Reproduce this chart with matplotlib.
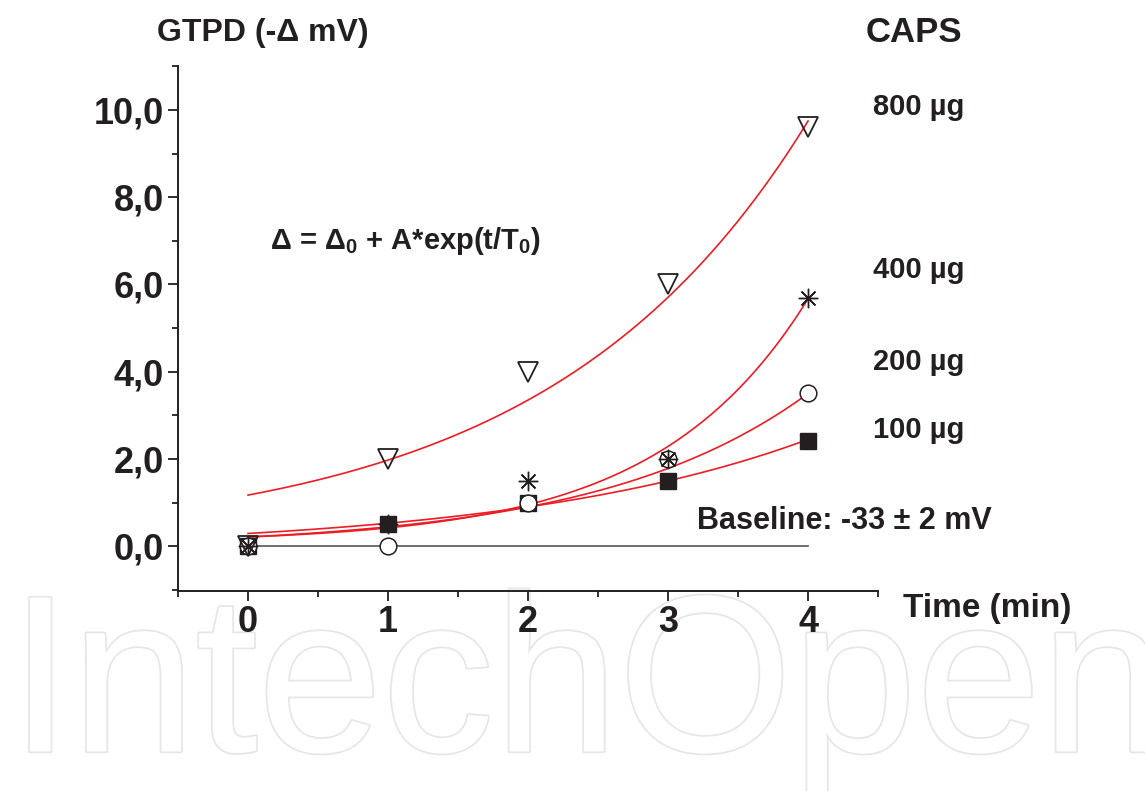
import matplotlib
matplotlib.use('Agg')
import matplotlib.pyplot as plt
import matplotlib.patheffects as pe
import numpy as np
from matplotlib.ticker import MultipleLocator, FuncFormatter

plt.rcParams['font.family'] = ['Liberation Sans', 'DejaVu Sans']
plt.rcParams['mathtext.default'] = 'bf'
plt.rcParams['mathtext.fontset'] = 'custom'
plt.rcParams['mathtext.bf'] = 'Liberation Sans:bold'

# measured points, time in min, GTPD in -mV
time = [0, 1, 2, 3, 4]
gtpd_800 = [0.0, 2.0, 4.0, 6.0, 9.6]
gtpd_400 = [0.0, 0.5, 1.5, 2.0, 5.7]
gtpd_200 = [0.0, 0.0, 1.0, 2.0, 3.5]
gtpd_100 = [0.0, 0.5, 1.0, 1.5, 2.4]

# exponential fit parameters (delta0, A, T0)
fit_800 = (0.044, 1.126, 1.857)
fit_400 = (0.073, 0.137, 1.078)
fit_200 = (-0.04, 0.249, 1.507)
fit_100 = (-0.106, 0.396, 2.146)

INK = '#231f20'
RED = '#ee1c24'

fig = plt.figure(figsize=(11.45, 7.91), dpi=100)
ax = fig.add_axes([0.1555, 0.2528, 0.6114, 0.6632])
ax.patch.set_alpha(0)

# watermark
fig.text(0.008, 0.05, 'IntechOpen', fontsize=161, color='white',
         family='Liberation Sans', zorder=-5,
         path_effects=[pe.Stroke(linewidth=2.5, foreground='#e6e6e6'), pe.Normal()])

t = np.linspace(0, 4, 200)
for d0, a, t0 in [fit_800, fit_400, fit_200, fit_100]:
    ax.plot(t, d0 + a * np.exp(t / t0), color=RED, lw=1.2, zorder=2)

ax.plot([0, 4], [0, 0], color='#555555', lw=1.2, zorder=1)

ax.plot(time, gtpd_100, ls='none', marker='s', ms=11, color=INK, zorder=3)
ax.plot(time, gtpd_200, ls='none', marker='o', ms=12, mfc='white', mec=INK, mew=1.1, zorder=4)
ax.plot(time, gtpd_400, ls='none', marker=(8, 2, 0), ms=14, mec=INK, mew=1.0, zorder=5)
ax.plot(time, gtpd_800, ls='none', marker='v', ms=14, mfc='none', mec=INK, mew=1.3, zorder=6)

ax.set_xlim(-0.5, 4.5)
ax.set_ylim(-1.03, 11.0)
ax.spines['top'].set_visible(False)
ax.spines['right'].set_visible(False)
for s in ['left', 'bottom']:
    ax.spines[s].set_linewidth(1.4)
    ax.spines[s].set_color(INK)

ax.xaxis.set_major_locator(MultipleLocator(1))
ax.xaxis.set_minor_locator(MultipleLocator(0.5))
ax.yaxis.set_major_locator(MultipleLocator(2))
ax.yaxis.set_minor_locator(MultipleLocator(1))
ax.yaxis.set_major_formatter(FuncFormatter(lambda v, p: f'{v:.1f}'.replace('.', ',')))
ax.tick_params(which='major', direction='out', length=7, width=1.3, color=INK,
               labelsize=26, labelcolor=INK, pad=3)
ax.tick_params(which='minor', direction='out', length=4, width=1.3, color=INK)
for lab in ax.get_xticklabels() + ax.get_yticklabels():
    lab.set_fontweight('bold')

txt = dict(fontweight='bold', color=INK, va='center', ha='left', clip_on=False)
ax.text(-0.65, 11.77, 'GTPD (-Δ mV)', fontsize=23, **txt)
ax.text(4.41, 11.77, 'CAPS', fontsize=25, **txt)
ax.text(4.46, 10.07, '800 µg', fontsize=21, **txt)
ax.text(4.46, 6.33, '400 µg', fontsize=21, **txt)
ax.text(4.46, 4.22, '200 µg', fontsize=21, **txt)
ax.text(4.46, 2.66, '100 µg', fontsize=21, **txt)
ax.text(4.68, -1.42, 'Time (min)', fontsize=24, **txt)
ax.text(3.21, 0.57, 'Baseline: -33 ± 2 mV', fontsize=22, **txt)
ax.text(0.16, 7.0, r'Δ = Δ$_0$ + A*exp(t/T$_0$)', fontsize=21, **txt)

fig.savefig('out.png', dpi=100)
